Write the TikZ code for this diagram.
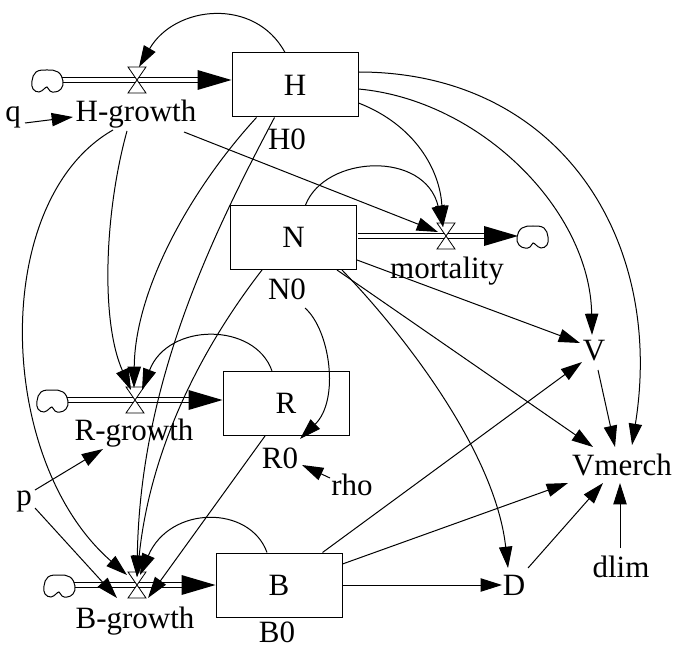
\documentclass[tikz,border=0pt]{standalone}
\usepackage{fontspec}
\setmainfont{Liberation Serif}
\usetikzlibrary{arrows.meta,calc}
\begin{document}
\begin{tikzpicture}[x=0.75pt,y=-0.75pt,
  every node/.style={font=\fontsize{23.25}{28}\selectfont},
  stock/.style={draw, line width=0.75pt, minimum width=94.5pt, minimum height=48pt, inner sep=0pt},
  var/.style={inner sep=1.5pt, anchor=base},
  conn/.style={line width=0.75pt, -{Triangle[length=16pt,width=10pt]}},
  pipe/.style={line width=0.75pt, double, double distance=3pt},
  srcsink/.pic={\draw[line width=0.75pt, fill=white] plot[smooth cycle, tension=0.7] coordinates {(-15,0) (-11,-9) (0,-11) (11,-9) (16,0) (14,8) (8,11) (3,10) (0,6) (-3,8) (-8,11) (-14,8)};},
  valve/.pic={\draw[line width=0.6pt, fill=white] (-9,-13) -- (9,-13) -- (0,0) -- cycle (-9,13) -- (9,13) -- (0,0) -- cycle;},
  ftip/.pic={\fill (-34,-10) -- (0,0) -- (-34,10) -- cycle;}
]
\useasboundingbox (0,0) rectangle (673,648);

% stocks
\node[stock] (H) at (295,85) {H};
\node[stock] (N) at (293.5,237.5) {N};
\node[stock] (R) at (286,403.5) {R};
\node[stock] (B) at (279,585) {B};

% variables and labels
\node[var] (Hg) at (136,122) {H-growth};
\node[var] (q) at (13,122) {q};
\node[var] (H0) at (287,150) {H0};
\node[var] (mort) at (447,278) {mortality};
\node[var] (N0) at (287,299) {N0};
\node[var] (Rg) at (134,440) {R-growth};
\node[var] (R0) at (280,468) {R0};
\node[var] (rho) at (352,495) {rho};
\node[var] (p) at (24,505) {p};
\node[var] (Bg) at (135,628) {B-growth};
\node[var] (B0) at (277,642) {B0};
\node[var] (V) at (594,360) {V};
\node[var] (Vm) at (622,475) {Vmerch};
\node[var] (D) at (514,595) {D};
\node[var] (dlim) at (621,577) {dlim};

% valves and clouds
\coordinate (hv) at (137,80);
\coordinate (mv) at (446,236);
\coordinate (rv) at (135,400);
\coordinate (bv) at (137,585);
\coordinate (hc) at (47,81);
\coordinate (mc) at (533,237);
\coordinate (rc) at (52,401);
\coordinate (bc) at (59,586);

% pipes
\draw[pipe] (hc |- hv) -- ($(H.west |- hv)+(-15,0)$);
\pic at (H.west |- hv) {ftip};
\draw[pipe] ($(N.east |- mv)+(0.5,0)$) -- ($(mc |- mv)+(-30,0)$);
\pic at ($(mc |- mv)+(-15,0)$) {ftip};
\draw[pipe] (rc |- rv) -- ($(R.west |- rv)+(-15,0)$);
\pic at (R.west |- rv) {ftip};
\draw[pipe] (bc |- bv) -- ($(B.west |- bv)+(-15,0)$);
\pic at (B.west |- bv) {ftip};

\pic at (hc) {srcsink};
\pic[xscale=-1] at (mc) {srcsink};
\pic at (rc) {srcsink};
\pic at (bc) {srcsink};

\pic at (hv) {valve};
\pic at (mv) {valve};
\pic at (rv) {valve};
\pic at (bv) {valve};

% connectors
\draw[conn] ($(H.north)+(-10,0)$) .. controls (255,-3) and (175,5) .. ($(hv)+(2,-13)$);
\draw[conn] ($(q.base)+(12,1)$) -- ($(Hg.base)+(-63,-5)$);
\draw[conn] ($(Hg.base)+(48,10)$) -- ($(mv)+(-8,-4)$);
\draw[conn] ($(H.east)+(0,-13)$) .. controls (560,72) and (665,240) .. ($(Vm.base)+(10,-30)$);
\draw[conn] ($(H.east)+(0,4)$) .. controls (480,100) and (590,210) .. ($(V.base)+(-2,-25)$);
\draw[conn] ($(H.east)+(0,18)$) .. controls (415,125) and (440,170) .. ($(mv)+(-3,-9)$);
\draw[conn] ($(N.north)+(12,0)$) .. controls (325,155) and (425,150) .. ($(mv)+(-3,-9)$);
\draw[conn] ($(N.east)+(0,22.5)$) -- ($(V.base)+(-14,-17)$);
\draw[conn] ($(N.south east)+(-20,0)$) -- ($(Vm.base)+(-29,-28)$);
\draw[conn] ($(N.south east)+(-15,0)$) .. controls (400,330) and (495,450) .. ($(D.base)+(-6,-27)$);
\draw[conn] ($(N.south west)+(32,0)$) .. controls (200,350) and (150,450) .. ($(bv)+(0,-8)$);
\draw[conn] ($(H.south west)+(43,0)$) .. controls (215,230) and (140,380) .. ($(bv)+(0,-8)$);
\draw[conn] ($(H.south west)+(25,0)$) .. controls (190,190) and (135,290) .. ($(rv)+(-1,-12)$);
\draw[conn] ($(Hg.base)+(-9,9)$) .. controls (105,210) and (100,320) .. ($(rv)+(-4,-10)$);
\draw[conn] ($(Hg.base)+(-23,8)$) .. controls (-10,200) and (-5,460) .. ($(bv)+(-10,-10)$);
\draw[conn] ($(R.north)+(-14,0)$) .. controls (255,322) and (168,322) .. ($(rv)+(7,-10)$);
\draw[conn] ($(R.south)+(-21,0)$) -- ($(bv)+(11,13)$);
\draw[conn] ($(p.base)+(11,-15)$) -- ($(Rg.base)+(-31,9)$);
\draw[conn] ($(p.base)+(11,3)$) -- ($(bv)+(-20,13)$);
\draw[conn] ($(B.north)+(-12,0)$) .. controls (250,505) and (170,505) .. ($(bv)+(3,-10)$);
\draw[conn] ($(B.north east)+(-20,0)$) -- ($(V.base)+(-12,2)$);
\draw[conn] ($(B.east)+(0,-21)$) -- ($(Vm.base)+(-54,8)$);
\draw[conn] (B.east) -- ($(D.base)+(-12,-10)$);
\draw[conn] ($(D.base)+(14,-27)$) -- ($(Vm.base)+(-19,8)$);
\draw[conn] ($(dlim.base)+(-1,-29)$) -- ($(Vm.base)+(-2,8)$);
\draw[conn] ($(V.base)+(4,10)$) -- ($(Vm.base)+(-7,-28)$);
\draw[conn] ($(rho.base)+(-22,-17)$) -- ($(R0.base)+(22,-3)$);
\draw[conn] ($(N0.base)+(18,9)$) .. controls (330,330) and (340,400) .. ($(R0.base)+(20,-29)$);
\end{tikzpicture}
\end{document}
